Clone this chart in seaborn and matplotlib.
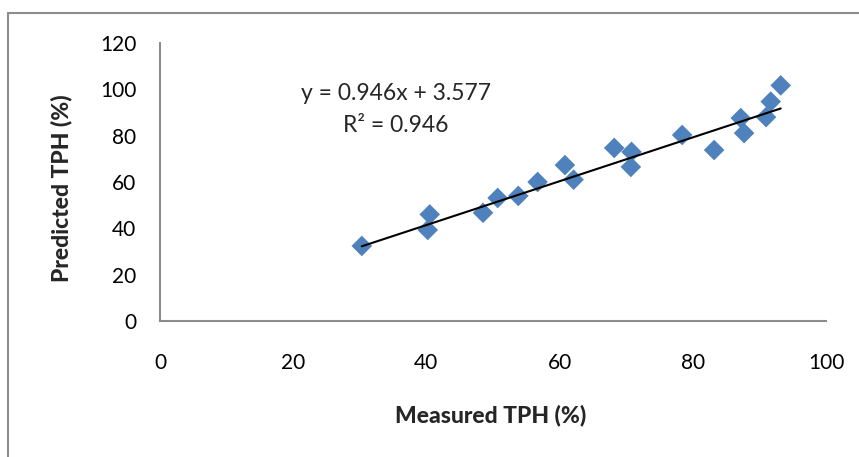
import matplotlib
matplotlib.use("Agg")
import matplotlib.pyplot as plt
import seaborn as sns
import numpy as np
import pandas as pd
from matplotlib.patches import Rectangle

# Data
measured = [30.3, 40.2, 40.5, 48.5, 50.7, 53.8, 56.7, 60.8, 62.1, 68.2,
            70.8, 70.7, 78.4, 83.2, 87.2, 87.7, 91.0, 91.7, 93.2]
predicted = [32.4, 39.3, 46.0, 46.7, 53.1, 54.0, 60.0, 67.3, 61.0, 74.7,
             73.0, 66.5, 80.3, 73.8, 87.6, 81.1, 88.0, 94.7, 101.7]
slope = 0.946
intercept = 3.577
r2 = 0.946
x_ticks = [0, 20, 40, 60, 80, 100]
y_ticks = [0, 20, 40, 60, 80, 100, 120]

df = pd.DataFrame({"Measured": measured, "Predicted": predicted})
xmin, xmax = min(measured), max(measured)
trend = pd.DataFrame({"x": [xmin, xmax],
                      "y": [slope * xmin + intercept, slope * xmax + intercept]})

sns.set_theme(style="white")
plt.rcParams['font.family'] = ['Lato', 'DejaVu Sans']

fig = plt.figure(figsize=(8.59, 4.57), dpi=100)
ax = fig.add_axes([160/859, 1 - 321/457, (826-160)/859, (321-43)/457])

sns.scatterplot(data=df, x="Measured", y="Predicted", marker="D", s=110,
                color="#4F81BD", edgecolor="none", linewidth=0, ax=ax, zorder=3)
sns.lineplot(data=trend, x="x", y="y", color="black", linewidth=1.5, ax=ax, zorder=4)

ax.set_xlim(0, 100)
ax.set_ylim(0, 120)
ax.set_xticks(x_ticks)
ax.set_yticks(y_ticks)
ax.tick_params(axis="x", length=0, pad=23, labelsize=15, colors="black")
ax.tick_params(axis="y", length=0, pad=17, labelsize=15, colors="black")

for s in ["top", "right"]:
    ax.spines[s].set_visible(False)
for s in ["left", "bottom"]:
    ax.spines[s].set_color("#8C8C8C")
    ax.spines[s].set_linewidth(1.5)

ax.set_xlabel("")
ax.set_ylabel("")
fig.text(491/859, 1 - 415/457, "Measured TPH (%)", ha="center", va="center",
         fontsize=16.5, fontweight="black")
fig.text(61/859, 1 - 188/457, "Predicted TPH (%)", ha="center", va="center",
         rotation=90, fontsize=16.5, fontweight="black")

ax.text(35.4, 98.4, f"y = {slope}x + {intercept}", ha="center", va="center", fontsize=16.5)
ax.text(35.4, 84.4, f"R² = {r2}", ha="center", va="center", fontsize=16.5)

fig.patches.append(Rectangle((8/859, -0.1), 1.2, 1 - 13/457 + 0.1,
                             transform=fig.transFigure, fill=False,
                             edgecolor="#8C8C8C", linewidth=1.5))

fig.savefig("out.png", dpi=100)
